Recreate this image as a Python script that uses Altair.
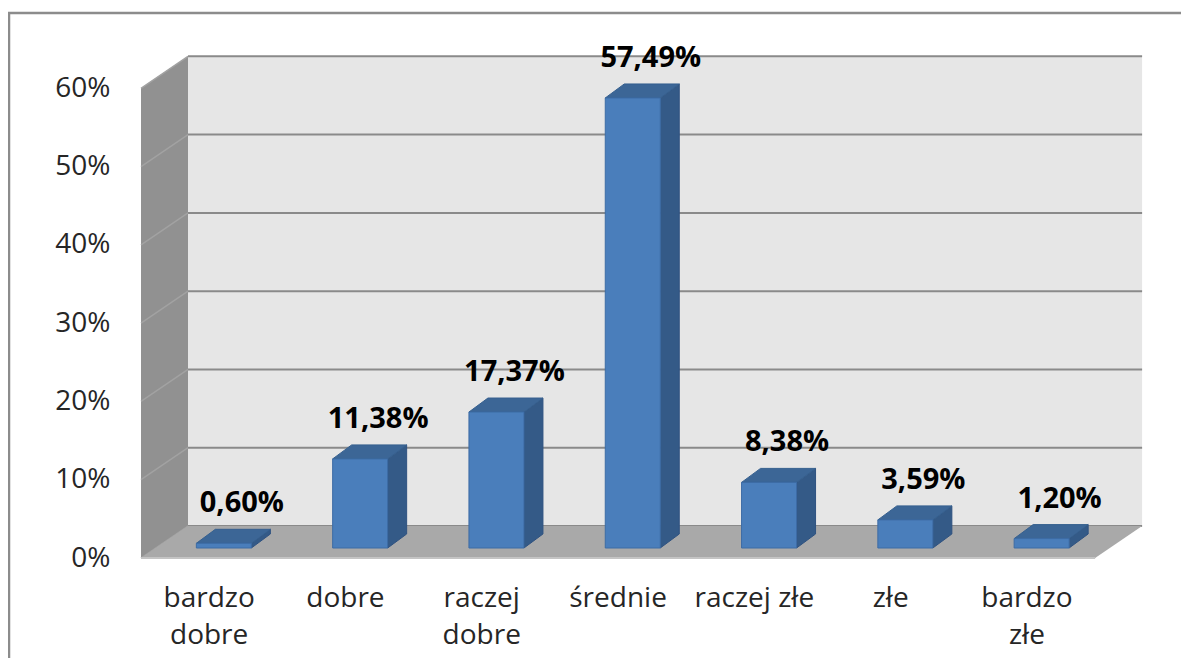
import altair as alt
import pandas as pd

# ---- data ----
categories = ["bardzo dobre", "dobre", "raczej dobre", "średnie", "raczej złe", "złe", "bardzo złe"]
category_lines = ["bardzo\ndobre", "dobre", "raczej\ndobre", "średnie", "raczej złe", "złe", "bardzo\nzłe"]
values = [0.60, 11.38, 17.37, 57.49, 8.38, 3.59, 1.20]
y_ticks = [0, 10, 20, 30, 40, 50, 60]

# ---- layout constants (pixels -> data units) ----
W, H = 1000, 501
X0, X1 = -0.5, -0.5 + W / 136.3
Y0, Y1 = 0.0, 64.0
kx = W / (X1 - X0)
ky = H / (Y1 - Y0)
n = len(values)
ymax = max(y_ticks)

WALL_DX, WALL_DY = 47 / kx, 32 / ky
BAR_OX, BAR_OY = 14.7 / kx, 10 / ky
BAR_HW = 27.5 / kx
BAR_DX, BAR_DY = 19 / kx, 14 / ky
LBL_DX, LBL_DY = 18 / kx, 40 / ky

FONT = "Open Sans"
xs = alt.Scale(domain=[X0, X1], nice=False, zero=False)
ys = alt.Scale(domain=[Y0, Y1], nice=False, zero=False)
yax = alt.Axis(values=y_ticks, labelExpr="datum.value + '%'", ticks=False, domain=False,
               grid=False, title=None, labelFont=FONT, labelFontSize=28,
               labelColor="#262626", labelPadding=31)


def X(f):
    return alt.X(f, type="quantitative", scale=xs, axis=None)


def Y(f):
    return alt.Y(f, type="quantitative", scale=ys, axis=yax)


# back wall
back = pd.DataFrame({"x": [X0 + WALL_DX], "x2": [n - 0.5 + WALL_DX],
                     "y": [WALL_DY], "y2": [ymax + WALL_DY]})
back_l = alt.Chart(back).mark_rect(color="#e6e6e6").encode(
    x=X("x"), x2="x2", y=Y("y"), y2="y2")

# back grid lines
grid = pd.DataFrame({"x": [X0 + WALL_DX] * len(y_ticks),
                     "x2": [n - 0.5 + WALL_DX] * len(y_ticks),
                     "y": [t + WALL_DY for t in y_ticks]})
grid_l = alt.Chart(grid).mark_rule(color="#8a8a8a", strokeWidth=2).encode(
    x=X("x"), x2="x2", y=Y("y"))

# left wall
lw = pd.DataFrame({"x": [X0, X0 + WALL_DX], "y": [0, WALL_DY],
                   "y2": [ymax, ymax + WALL_DY]})
lw_l = alt.Chart(lw).mark_area(color="#919191", orient="vertical").encode(
    x=X("x"), y=Y("y"), y2="y2")

lwg = pd.DataFrame({"x": [X0] * len(y_ticks), "x2": [X0 + WALL_DX] * len(y_ticks),
                    "y": y_ticks, "y2": [t + WALL_DY for t in y_ticks]})
lwg_l = alt.Chart(lwg).mark_rule(color="#a2a2a2", strokeWidth=1.5).encode(
    x=X("x"), x2="x2", y=Y("y"), y2="y2")

# floor
fl = pd.DataFrame({"y": [0, WALL_DY], "x": [X0, X0 + WALL_DX],
                   "x2": [n - 0.5, n - 0.5 + WALL_DX]})
fl_l = alt.Chart(fl).mark_area(color="#a9a9a9", orient="horizontal").encode(
    y=Y("y"), x=X("x"), x2="x2")
fl_edge = alt.Chart(pd.DataFrame({"x": [X0], "x2": [n - 0.5], "y": [0]})).mark_rule(
    color="#c4c4c4", strokeWidth=2).encode(x=X("x"), x2="x2", y=Y("y"))

# bars
front_rows, side_rows, top_rows, lbl_rows = [], [], [], []
for i, v in enumerate(values):
    c = i + BAR_OX
    xl, xr = c - BAR_HW, c + BAR_HW
    yb, yt = BAR_OY, BAR_OY + v
    front_rows.append({"x": xl, "x2": xr, "y": yb, "y2": yt})
    side_rows += [{"id": i, "x": xr, "y": yb, "y2": yt},
                  {"id": i, "x": xr + BAR_DX, "y": yb + BAR_DY, "y2": yt + BAR_DY}]
    top_rows += [{"id": i, "y": yt, "x": xl, "x2": xr},
                 {"id": i, "y": yt + BAR_DY, "x": xl + BAR_DX, "x2": xr + BAR_DX}]
    lbl_rows.append({"x": c + LBL_DX, "y": yt + LBL_DY,
                     "t": f"{v:.2f}%".replace(".", ",")})

side_l = alt.Chart(pd.DataFrame(side_rows)).mark_area(
    color="#345a87", orient="vertical", stroke="#2f5280", strokeWidth=1).encode(
    x=X("x"), y=Y("y"), y2="y2", detail="id:N")
top_l = alt.Chart(pd.DataFrame(top_rows)).mark_area(
    color="#3c6696", orient="horizontal", stroke="#36608f", strokeWidth=1).encode(
    y=Y("y"), x=X("x"), x2="x2", detail="id:N")
front_l = alt.Chart(pd.DataFrame(front_rows)).mark_rect(
    color="#4a7ebb", stroke="#3d6ca5", strokeWidth=1).encode(
    x=X("x"), x2="x2", y=Y("y"), y2="y2")

lbl_l = alt.Chart(pd.DataFrame(lbl_rows)).mark_text(
    font=FONT, fontSize=29, fontWeight="bold", color="#000000", baseline="middle").encode(
    x=X("x"), y=Y("y"), text="t:N")

cat = pd.DataFrame({"x": list(range(n)), "t": category_lines})
cat_l = alt.Chart(cat).mark_text(
    font=FONT, fontSize=28, color="#262626", baseline="alphabetic",
    lineBreak="\n", lineHeight=37).encode(
    x=X("x"), y=alt.value(550), text="t:N")

# outer frame (top and left edges)
one = pd.DataFrame({"a": [0]})
frame_top = alt.Chart(one).mark_rule(color="#8c8c8c", strokeWidth=2.5).encode(
    x=alt.value(-133), x2=alt.value(1040), y=alt.value(-44))
frame_left = alt.Chart(one).mark_rule(color="#8c8c8c", strokeWidth=2.5).encode(
    x=alt.value(-132), y=alt.value(-45), y2=alt.value(612))

chart = alt.layer(
    back_l, grid_l, lw_l, lwg_l, fl_l, fl_edge, side_l, top_l, front_l, lbl_l, cat_l,
    frame_top, frame_left
).properties(
    width=W, height=H,
    autosize=alt.AutoSizeParams(type="none"),
    padding={"left": 133, "top": 49, "right": 40, "bottom": 100},
).configure_view(strokeWidth=0)

chart.save("out.html", embed_options={"renderer": "svg", "actions": False})
